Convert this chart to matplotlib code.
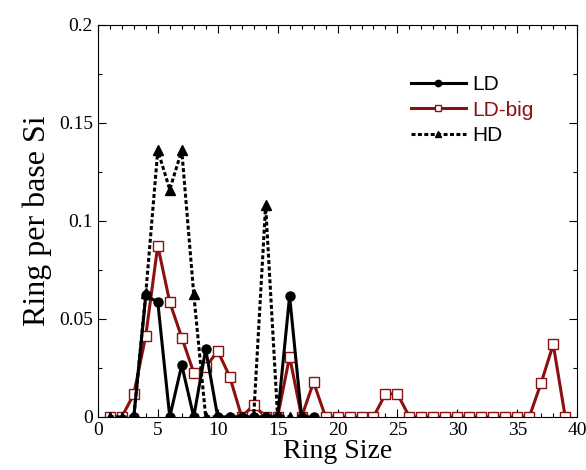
import numpy as np
import matplotlib.pyplot as plt
from matplotlib.ticker import MultipleLocator

# ring statistics
ld_x = [3, 4, 5, 6, 7, 8, 9, 10, 11, 12, 13, 14, 15, 16, 17, 18]
ld_y = [0, 0.062, 0.0585, 0, 0.0265, 0, 0.0345, 0, 0, 0, 0, 0, 0, 0.0617, 0, 0]

ldbig_x = list(range(1, 40))
ldbig_y = [0, 0, 0.0116, 0.0415, 0.0874, 0.0585, 0.0405, 0.0226, 0.0253, 0.0337,
           0.0206, 0, 0.006, 0, 0, 0.0308, 0, 0.0177, 0, 0,
           0, 0, 0, 0.0117, 0.0117, 0, 0, 0, 0, 0,
           0, 0, 0, 0, 0, 0, 0.0175, 0.037, 0]

hd_x = list(range(1, 17))
hd_y = [0, 0, 0, 0.063, 0.136, 0.116, 0.136, 0.0627, 0, 0, 0, 0, 0, 0.108, 0, 0]

dark_red = '#8c1010'

plt.rcParams['font.family'] = ['Liberation Serif', 'DejaVu Serif']

fig = plt.figure(figsize=(5.86, 4.70), dpi=100)
ax = fig.add_axes([0.167, 0.113, 0.818, 0.834])

ax.plot(ld_x, ld_y, '-', color='black', lw=2.2, marker='o', ms=6.5,
        mfc='black', mec='black', label='LD', zorder=4)
ax.plot(ldbig_x, ldbig_y, '-', color=dark_red, lw=2.2, marker='s', ms=6.5,
        mfc='white', mec=dark_red, mew=1.0, label='LD-big', zorder=2)
ax.plot(hd_x, hd_y, color='black', lw=2.2, ls=(0, (1.3, 0.8)), marker='^', ms=6.5,
        mfc='black', mec='black', label='HD', zorder=3)

ax.set_xlim(0, 40)
ax.set_ylim(0, 0.2)
ax.xaxis.set_major_locator(MultipleLocator(5))
ax.xaxis.set_minor_locator(MultipleLocator(1))
ax.yaxis.set_major_locator(MultipleLocator(0.05))
ax.yaxis.set_minor_locator(MultipleLocator(0.025))
ax.set_yticks([0, 0.05, 0.1, 0.15, 0.2])
ax.set_yticklabels(['0', '0.05', '0.1', '0.15', '0.2'])

ax.tick_params(which='both', direction='in', top=True, right=True, labelsize=14)
ax.tick_params(which='major', length=6, width=0.8)
ax.tick_params(which='minor', length=3, width=0.8)
for s in ax.spines.values():
    s.set_linewidth(0.8)

ax.set_xlabel('Ring Size', fontsize=20, labelpad=0)
ax.set_ylabel('Ring per base Si', fontsize=23, labelpad=5)

leg = ax.legend(loc='upper left', bbox_to_anchor=(0.615, 0.92), frameon=False,
                handlelength=2.6, handletextpad=0.3, labelspacing=0.32,
                markerscale=0.7,
                prop={'family': 'Liberation Sans', 'size': 15})
for txt, c in zip(leg.get_texts(), ['black', dark_red, 'black']):
    txt.set_color(c)

fig.savefig('out.png', dpi=100)
